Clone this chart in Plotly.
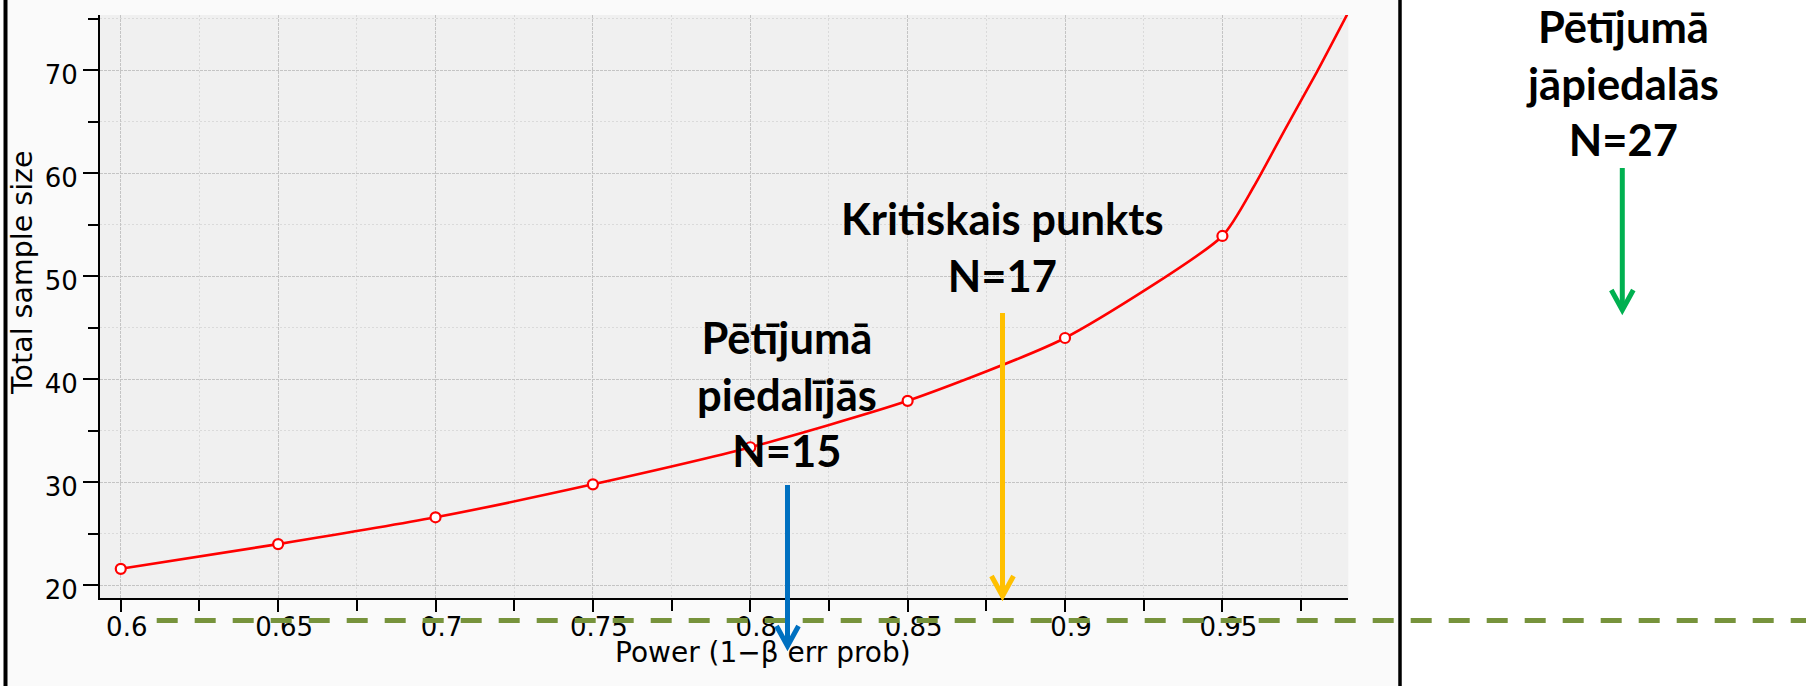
import plotly.graph_objects as go

# ---- data ----
power_marks = [0.6, 0.65, 0.7, 0.75, 0.8, 0.85, 0.9, 0.95]
n_marks = [21.6, 24.0, 26.6, 29.8, 33.4, 37.9, 44.0, 53.9]
power_curve = [0.6, 0.65, 0.7, 0.75, 0.8, 0.85, 0.9, 0.95, 0.96, 0.97, 0.98, 0.99]
n_curve = [21.6, 24.0, 26.6, 29.8, 33.4, 37.9, 44.0, 53.9, 58.7, 64.3, 69.8, 75.6]
x_tickvals = [0.6, 0.65, 0.7, 0.75, 0.8, 0.85, 0.9, 0.95]
x_ticktext = ["0.6", "0.65", "0.7", "0.75", "0.8", "0.85", "0.9", "0.95"]
y_tickvals = [20, 30, 40, 50, 60, 70]
y_ticktext = ["20", "30", "40", "50", "60", "70"]

W, H = 1806, 686


def px(x):
    return x / W


def py(y):
    return 1 - y / H


fig = go.Figure()
fig.add_trace(go.Scatter(
    x=power_curve, y=n_curve, mode="lines",
    line=dict(color="#ff0000", width=2.6, shape="spline", smoothing=0.6),
    hoverinfo="skip", showlegend=False))
fig.add_trace(go.Scatter(
    x=power_marks, y=n_marks, mode="markers",
    marker=dict(symbol="circle", size=10, color="white",
                line=dict(color="#ff0000", width=2.2)),
    showlegend=False))

tickfont = dict(family="DejaVu Sans", size=26, color="black")

shapes = [
    # panel background
    dict(type="rect", xref="paper", yref="paper", x0=px(5), x1=px(1400), y0=0, y1=1,
         fillcolor="#fafafa", line=dict(width=0), layer="below"),
    # plot area background
    dict(type="rect", xref="x domain", yref="y domain", x0=0, x1=1, y0=0, y1=1,
         fillcolor="#f0f0f0", line=dict(width=0), layer="below"),
    # panel borders
    dict(type="line", xref="paper", yref="paper", x0=px(5.5), x1=px(5.5), y0=0, y1=1,
         line=dict(color="black", width=4), layer="above"),
    dict(type="line", xref="paper", yref="paper", x0=px(1400), x1=px(1400), y0=0, y1=1,
         line=dict(color="black", width=3.5), layer="above"),
    # green dashed line
    dict(type="line", xref="paper", yref="paper", x0=px(156.7), x1=1, y0=py(620.5), y1=py(620.5),
         line=dict(color="#77933C", width=5, dash="21px,17px"), layer="above"),
]


def arrow(x, y_top, y_tip, color, hw=11, hh=20, width=5):
    return [
        dict(type="line", xref="paper", yref="paper", x0=px(x), x1=px(x),
             y0=py(y_top), y1=py(y_tip - 1), line=dict(color=color, width=width), layer="above"),
        dict(type="path", xref="paper", yref="paper",
             path=f"M {px(x - hw)},{py(y_tip - hh)} L {px(x)},{py(y_tip)} L {px(x + hw)},{py(y_tip - hh)}",
             line=dict(color=color, width=width), layer="above"),
    ]


shapes += arrow(787.5, 485, 646, "#0070C0")
shapes += arrow(1002.5, 313, 596, "#FFC000")
shapes += arrow(1622.3, 168, 310, "#00B050")

boldfont = dict(family="Lato", size=43.5, color="black")
annotations = [
    dict(text="<b>Pētījumā<br>piedalījās<br>N=15</b>", xref="paper", yref="paper",
         x=px(787), y=py(393), xanchor="center", yanchor="middle", showarrow=False, font=boldfont),
    dict(text="<b>Kritiskais punkts<br>N=17</b>", xref="paper", yref="paper",
         x=px(1002.5), y=py(247), xanchor="center", yanchor="middle", showarrow=False, font=boldfont),
    dict(text="<b>Pētījumā<br>jāpiedalās<br>N=27</b>", xref="paper", yref="paper",
         x=px(1622), y=py(83), xanchor="center", yanchor="middle", showarrow=False, font=boldfont),
    dict(text="Power (1−β err prob)", xref="paper", yref="paper",
         x=px(763), y=py(652), xanchor="center", yanchor="middle", showarrow=False,
         font=dict(family="DejaVu Sans", size=28, color="black")),
    dict(text="Total sample size", xref="paper", yref="paper", textangle=-90,
         x=px(22), y=py(273), xanchor="center", yanchor="middle", showarrow=False,
         font=dict(family="DejaVu Sans", size=28.5, color="black")),
]

fig.update_layout(
    template="none",
    width=W, height=H, autosize=False,
    margin=dict(l=0, r=0, t=0, b=0, pad=0),
    paper_bgcolor="white", plot_bgcolor="#f0f0f0",
    shapes=shapes, annotations=annotations,
    xaxis=dict(
        automargin=False,
        domain=[px(100), px(1348.3)], range=[0.5934, 0.99],
        tickvals=x_tickvals, ticktext=x_ticktext, tickfont=tickfont,
        ticks="outside", ticklen=12, tickwidth=2, tickcolor="black",
        showline=True, linecolor="black", linewidth=2,
        showgrid=True, gridcolor="#c4c4c4", gridwidth=1, griddash="3px,1px",
        zeroline=False, ticklabelshift=6, ticklabelstandoff=-7,
        minor=dict(dtick=0.025, tick0=0.6, ticks="outside", ticklen=11, tickwidth=2,
                   tickcolor="black", showgrid=True, gridcolor="#dadada", gridwidth=1,
                   griddash="2px,2px"),
    ),
    yaxis=dict(
        automargin=False,
        domain=[py(598), py(15)], range=[18.77, 75.34],
        tickvals=y_tickvals, ticktext=y_ticktext, tickfont=tickfont,
        ticks="outside", ticklen=15, tickwidth=2, tickcolor="black",
        showline=True, linecolor="black", linewidth=2,
        showgrid=True, gridcolor="#c4c4c4", gridwidth=1, griddash="3px,1px",
        zeroline=False, ticklabelshift=5, ticklabelstandoff=0,
        minor=dict(dtick=5, tick0=20, ticks="outside", ticklen=10, tickwidth=2,
                   tickcolor="black", showgrid=True, gridcolor="#dadada", gridwidth=1,
                   griddash="2px,2px"),
    ),
)

fig.write_html(
    "out.html",
    config={"displayModeBar": False},
    post_script="document.body.style.margin='0';document.body.style.padding='0';"
                "document.body.style.overflow='hidden';",
)
